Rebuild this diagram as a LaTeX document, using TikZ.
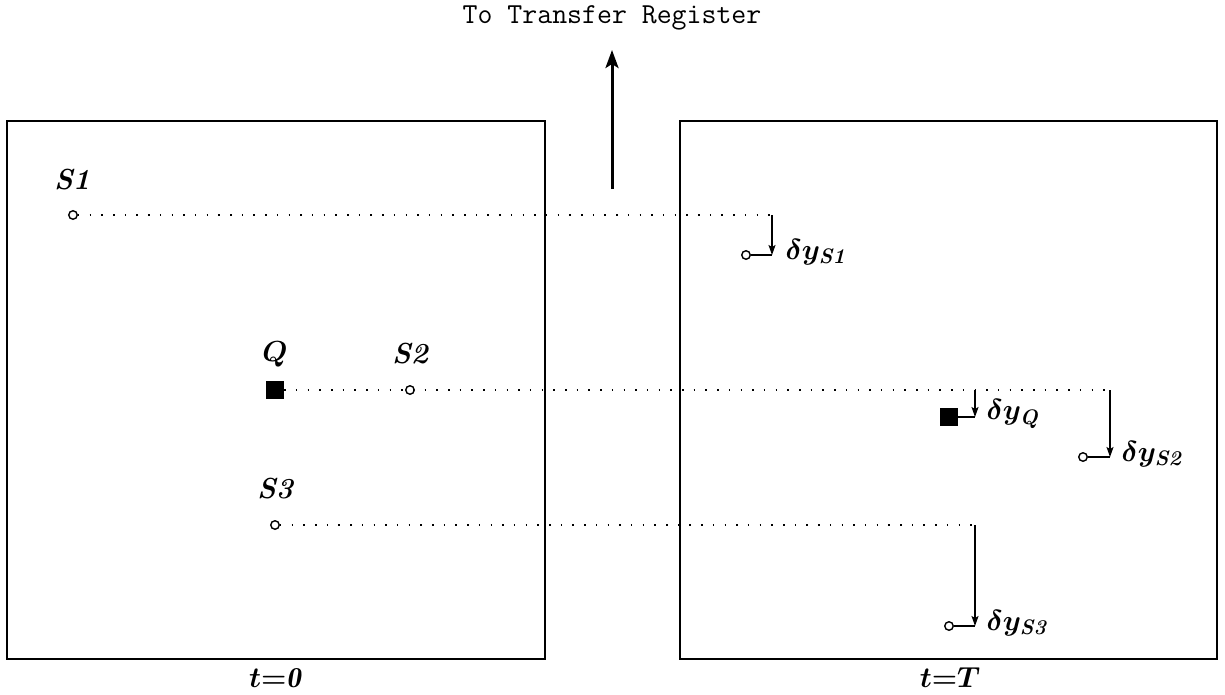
\RequirePackage{fix-cm}
\documentclass[tikz,border=0pt]{standalone}
\usepackage{fontspec}
\usetikzlibrary{arrows.meta}
\newcommand{\subtxt}[1]{\mbox{\fontsize{21}{24}\selectfont\bfseries\itshape #1}}
\begin{document}
\begin{tikzpicture}[x=1pt,y=-1pt,
  frame/.style={draw,line width=1.8pt},
  src/.style={draw,circle,line width=1.4pt,inner sep=0pt,minimum size=8.5pt},
  qsq/.style={fill=black,inner sep=0pt,minimum size=18pt},
  lab/.style={font=\fontsize{29}{32}\selectfont\bfseries\itshape\mathversion{bold}},
  dlab/.style={font=\fontsize{29}{32}\selectfont\bfseries\mathversion{bold},anchor=west},
  dots/.style={line width=1.5pt,dash pattern=on 1.5pt off 10.2pt},
  thin/.style={line width=1.5pt},
  dn/.style={thin,-{Stealth[length=10pt,width=7pt,inset=2pt]}}]
\useasboundingbox (0,0) rectangle (1225,694);
% frames
\node[frame,minimum width=538pt,minimum height=538pt,inner sep=0pt] (left) at (276,390) {};
\node[frame,minimum width=537pt,minimum height=538pt,inner sep=0pt] (right) at (948.5,390) {};
\node[lab] (t0) at (275,678) {$t\mathrm{=}\mathit{0}$};
\node[lab] (tT) at (950,678) {$t\mathrm{=}T$};
% title and arrow
\node[font=\fontsize{29}{32}\selectfont\ttfamily] (title) at (612,18) {To Transfer Register};
\coordinate (abot) at (612,189);
\coordinate (atop) at (612,50);
\draw[line width=3pt,-{Stealth[length=18pt,width=13pt,inset=4pt]}] (abot) -- (atop);
% sources at t=0
\node[src] (s1) at (73,215) {};
\node[lab] (s1l) at (72,180) {S1};
\node[qsq] (q) at (275,390) {};
\node[lab] (ql) at (275,354) {$Q$};
\node[src] (s2) at (410,390) {};
\node[lab] (s2l) at (410,354) {S2};
\node[src] (s3) at (275,525) {};
\node[lab] (s3l) at (275,489) {S3};
% reference lines
\coordinate (s1e) at (772,215);
\coordinate (qe) at (975,390);
\coordinate (s2e) at (1110,390);
\coordinate (s3e) at (975,525);
\draw[dots] (s1) -- (s1e);
\draw[dots] (q) -- (s2e);
\draw[dots] (s3) -- (s3e);
% shifted positions at t=T
\coordinate (s1b) at (772,255);
\node[src] (s1n) at (746,255) {};
\draw[dn] (s1e) -- (s1b);
\draw[thin] (s1n) -- (s1b);
\node[dlab] (s1d) at (782,252) {$\delta y_{\subtxt{S1}}$};

\coordinate (qb) at (975,417);
\node[qsq] (qn) at (949,417) {};
\draw[dn] (qe) -- (qb);
\draw[thin] (qn) -- (qb);
\node[dlab] (qd) at (983,414) {$\delta y_{\subtxt{Q}}$};

\coordinate (s2b) at (1110,457);
\node[src] (s2n) at (1083,457) {};
\draw[dn] (s2e) -- (s2b);
\draw[thin] (s2n) -- (s2b);
\node[dlab] (s2d) at (1118,454) {$\delta y_{\subtxt{S2}}$};

\coordinate (s3b) at (975,626);
\node[src] (s3n) at (949,626) {};
\draw[dn] (s3e) -- (s3b);
\draw[thin] (s3n) -- (s3b);
\node[dlab] (s3d) at (983,623) {$\delta y_{\subtxt{S3}}$};
\end{tikzpicture}
\end{document}
